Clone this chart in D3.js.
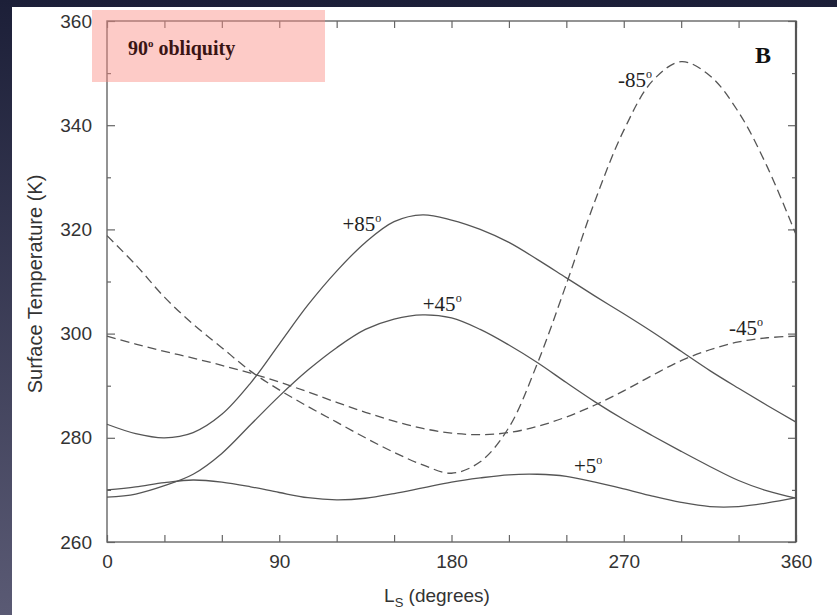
<!DOCTYPE html>
<html>
<head>
<meta charset="utf-8">
<script src="https://cdn.jsdelivr.net/npm/d3@7/dist/d3.min.js"></script>
<style>
  html, body { margin: 0; padding: 0; background: #1e2139; }
  svg { display: block; }
</style>
</head>
<body>
<div class="board"></div>
<script>
// seasonal surface temperatures at 90 deg obliquity
var ls = [0, 15, 30, 45, 60, 75, 90, 105, 120, 135, 150, 165, 180, 195, 210, 225, 240, 255, 270, 285, 300, 315, 330, 345, 360];

var plus85 = [282.6, 280.8, 280.0, 281.0, 284.5, 290.5, 298.0, 305.5, 312.0, 317.5, 321.5, 322.8, 321.8, 320.0, 317.5, 314.2, 310.7, 307.2, 303.8, 300.3, 296.6, 292.9, 289.5, 286.2, 283.0];
var plus45 = [268.6, 269.2, 270.8, 273.0, 277.0, 282.5, 288.0, 293.0, 297.3, 300.8, 302.8, 303.6, 303.0, 300.8, 297.8, 294.4, 290.6, 286.9, 283.5, 280.4, 277.4, 274.5, 271.8, 269.8, 268.4];
var plus5 = [270.0, 270.6, 271.4, 271.9, 271.5, 270.6, 269.5, 268.5, 268.1, 268.4, 269.3, 270.4, 271.5, 272.3, 272.9, 273.0, 272.6, 271.5, 270.2, 268.8, 267.6, 266.8, 266.8, 267.5, 268.5];
var minus85 = [318.8, 313.2, 307.0, 301.8, 297.3, 292.8, 289.2, 286.0, 283.0, 280.0, 277.2, 274.8, 273.2, 275.4, 282.0, 294.4, 309.5, 325.5, 339.0, 348.5, 352.2, 349.5, 342.5, 332.0, 319.0];
var minus45 = [299.5, 298.0, 296.6, 295.3, 293.9, 292.4, 290.7, 288.8, 286.8, 284.9, 283.2, 281.8, 280.9, 280.6, 281.0, 282.2, 284.0, 286.3, 289.0, 292.0, 294.8, 296.9, 298.4, 299.2, 299.5];

var xTickLabels = [0, 90, 180, 270, 360];
var xMinorTicks = [30, 60, 120, 150, 210, 240, 300, 330];
var yTickLabels = [260, 280, 300, 320, 340, 360];
var yMinorTicks = [270, 290, 310, 330, 350];

var series = [
  { name: '+85', values: plus85, dashed: false, lx: 123, ly: 319.6 },
  { name: '+45', values: plus45, dashed: false, lx: 165, ly: 304.4 },
  { name: '+5', values: plus5, dashed: false, lx: 244, ly: 273.2 },
  { name: '-85', values: minus85, dashed: true, lx: 267, ly: 347.3 },
  { name: '-45', values: minus45, dashed: true, lx: 325, ly: 299.7 }
];

var options = { width: 837, height: 615 };
var margin = { left: 107, right: 41, top: 21, bottom: 73 };

var svg = d3.select('.board')
  .append('svg')
  .attr('width', options.width)
  .attr('height', options.height);

var defs = svg.append('defs');
var grad = defs.append('linearGradient')
  .attr('id', 'bg')
  .attr('x1', 0).attr('y1', 0).attr('x2', 0).attr('y2', 1);
grad.append('stop').attr('offset', '0%').attr('stop-color', '#1c1f38');
grad.append('stop').attr('offset', '100%').attr('stop-color', '#5a5a74');

svg.append('rect')
  .attr('width', options.width)
  .attr('height', options.height)
  .style('fill', 'url(#bg)');

svg.append('rect')
  .attr('x', 12).attr('y', 7)
  .attr('width', options.width - 12)
  .attr('height', options.height - 7)
  .style('fill', '#ffffff');

var x = d3.scaleLinear()
  .domain([0, 360])
  .range([margin.left, options.width - margin.right]);

var y = d3.scaleLinear()
  .domain([260, 360])
  .range([options.height - margin.bottom, margin.top]);

var axisColor = '#666';
var sans = 'Liberation Sans, Arial, sans-serif';
var serif = 'Liberation Serif, Times New Roman, serif';

function drawAxis(axis, tx, ty) {
  var g = svg.append('g')
    .attr('transform', 'translate(' + tx + ',' + ty + ')')
    .call(axis);
  g.select('.domain').remove();
  g.selectAll('line').style('stroke', axisColor).style('stroke-width', 1.2);
  return g;
}

var bottomY = y(260), topY = y(360), leftX = x(0), rightX = x(360);

// ticks point inward on all four sides
drawAxis(d3.axisTop(x).tickValues(xTickLabels.concat(xMinorTicks)).tickSize(7).tickFormat(''), 0, bottomY);
drawAxis(d3.axisBottom(x).tickValues(xTickLabels.concat(xMinorTicks)).tickSize(7).tickFormat(''), 0, topY);
drawAxis(d3.axisRight(y).tickValues(yTickLabels).tickSize(8).tickFormat(''), leftX, 0);
drawAxis(d3.axisRight(y).tickValues(yMinorTicks).tickSize(4).tickFormat(''), leftX, 0);
drawAxis(d3.axisLeft(y).tickValues(yTickLabels).tickSize(8).tickFormat(''), rightX, 0);
drawAxis(d3.axisLeft(y).tickValues(yMinorTicks).tickSize(4).tickFormat(''), rightX, 0);

// tick labels
var xl = drawAxis(d3.axisBottom(x).tickValues(xTickLabels).tickSize(0).tickPadding(13), 0, bottomY);
xl.selectAll('text')
  .style('font-family', sans)
  .style('font-size', '19px')
  .style('fill', '#333');

var yl = drawAxis(d3.axisLeft(y).tickValues(yTickLabels).tickSize(0).tickPadding(15), leftX, 0);
yl.selectAll('text')
  .style('font-family', sans)
  .style('font-size', '19px')
  .style('fill', '#333');

// frame
svg.append('rect')
  .attr('x', leftX).attr('y', topY)
  .attr('width', rightX - leftX)
  .attr('height', bottomY - topY)
  .style('fill', 'none')
  .style('stroke', axisColor)
  .style('stroke-width', 1.4);

svg.append('line')
  .attr('x1', rightX).attr('x2', rightX)
  .attr('y1', topY).attr('y2', bottomY)
  .style('stroke', '#555')
  .style('stroke-width', 2.2);

// curves
var line = d3.line()
  .x(function(d, i) { return x(ls[i]); })
  .y(function(d) { return y(d); })
  .curve(d3.curveCatmullRom);

svg.selectAll('path.curve')
  .data(series)
  .enter()
  .append('path')
  .attr('class', 'curve')
  .attr('d', function(d) { return line(d.values); })
  .style('fill', 'none')
  .style('stroke', '#555')
  .style('stroke-width', 1.3)
  .style('stroke-dasharray', function(d) { return d.dashed ? '9,5' : null; });

// curve labels
var labels = svg.selectAll('text.lbl')
  .data(series)
  .enter()
  .append('text')
  .attr('class', 'lbl')
  .attr('x', function(d) { return x(d.lx); })
  .attr('y', function(d) { return y(d.ly); })
  .style('font-family', serif)
  .style('font-size', '21px')
  .style('fill', '#222');

labels.append('tspan').text(function(d) { return d.name; });
labels.append('tspan')
  .attr('dy', -9)
  .style('font-size', '12px')
  .text('o');

// axis titles
svg.append('text')
  .attr('transform', 'translate(42,' + 284 + ') rotate(-90)')
  .style('text-anchor', 'middle')
  .style('font-family', sans)
  .style('font-size', '20px')
  .style('fill', '#333')
  .text('Surface Temperature (K)');

var xt = svg.append('text')
  .attr('x', 437)
  .attr('y', 602)
  .style('text-anchor', 'middle')
  .style('font-family', sans)
  .style('font-size', '19px')
  .style('fill', '#333');
xt.append('tspan').text('L');
xt.append('tspan').attr('dy', 5).style('font-size', '13px').text('S');
xt.append('tspan').attr('dy', -5).text(' (degrees)');

// panel letter
svg.append('text')
  .attr('x', 755)
  .attr('y', 63)
  .style('font-family', serif)
  .style('font-weight', 'bold')
  .style('font-size', '24px')
  .style('fill', '#111')
  .text('B');

// highlighted caption box
svg.append('rect')
  .attr('x', 92).attr('y', 10)
  .attr('width', 233).attr('height', 72)
  .style('fill', 'rgba(250,140,130,0.45)');

var cap = svg.append('text')
  .attr('x', 128)
  .attr('y', 55)
  .style('font-family', serif)
  .style('font-weight', 'bold')
  .style('font-size', '20px')
  .style('fill', '#3a1414');
cap.append('tspan').text('90');
cap.append('tspan').attr('dy', -8).style('font-size', '11px').text('o');
cap.append('tspan').attr('dy', 8).text(' obliquity');
</script>
</body>
</html>
